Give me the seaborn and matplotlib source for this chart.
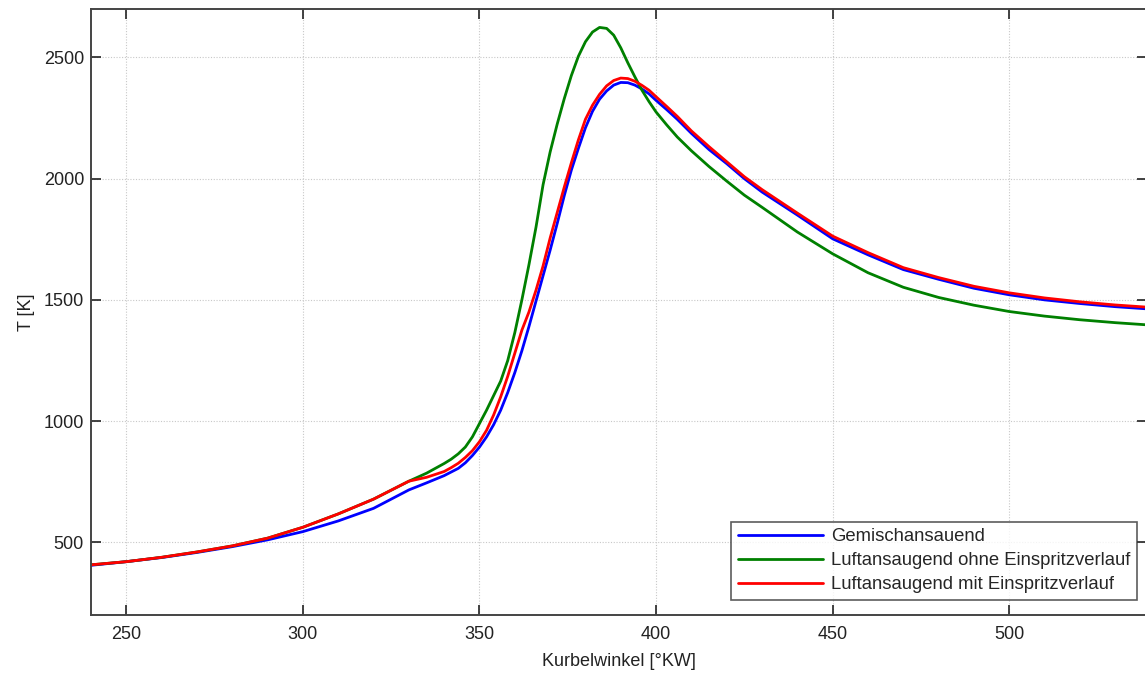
import matplotlib
matplotlib.use("Agg")
import matplotlib.pyplot as plt
import seaborn as sns
import pandas as pd

# Crank angle [°KW]
kurbelwinkel = [240, 250, 260, 270, 280, 290, 300, 310, 320, 330, 335,
                340, 342, 344, 346, 348, 350, 352, 354, 356, 358, 360,
                362, 364, 366, 368, 370, 372, 374, 376, 378, 380,
                382, 384, 386, 388, 390, 392, 394, 396, 398, 400,
                403, 406, 410, 415, 420, 425, 430, 440, 450,
                460, 470, 480, 490, 500, 510, 520, 530, 539]

t_gemisch = [405, 420, 437, 458, 482, 510, 544, 588, 640, 716, 745,
             775, 790, 805, 828, 858, 893, 935, 985, 1045, 1118, 1200,
             1290, 1390, 1495, 1600, 1705, 1815, 1930, 2035, 2125, 2210,
             2278, 2328, 2362, 2386, 2397, 2396, 2386, 2370, 2350, 2323,
             2285, 2245, 2187, 2120, 2062, 2000, 1945, 1850, 1752,
             1686, 1625, 1585, 1548, 1521, 1500, 1485, 1472, 1463]

t_luft_ohne = [407, 420, 438, 460, 485, 517, 562, 617, 678, 752, 785,
               825, 843, 865, 893, 935, 990, 1045, 1105, 1165, 1250, 1365,
               1500, 1645, 1800, 1975, 2110, 2225, 2330, 2425, 2505, 2565,
               2605, 2624, 2620, 2592, 2540, 2478, 2420, 2365, 2318, 2275,
               2222, 2172, 2115, 2050, 1990, 1932, 1882, 1780, 1690,
               1612, 1552, 1510, 1478, 1452, 1433, 1418, 1406, 1397]

t_luft_mit = [407, 420, 438, 460, 485, 517, 562, 617, 678, 752, 768,
              792, 808, 826, 850, 878, 915, 962, 1025, 1100, 1185, 1280,
              1375, 1450, 1540, 1640, 1755, 1860, 1965, 2065, 2160, 2245,
              2303, 2348, 2383, 2405, 2415, 2413, 2402, 2385, 2365, 2338,
              2298, 2257, 2197, 2132, 2070, 2008, 1955, 1858, 1763,
              1695, 1633, 1592, 1556, 1529, 1508, 1492, 1479, 1470]

labels = ["Gemischansauend", "Luftansaugend ohne Einspritzverlauf",
          "Luftansaugend mit Einspritzverlauf"]
colors = ["#0000ff", "#008000", "#ff0000"]

x_ticks = [250, 300, 350, 400, 450, 500]
y_ticks = [500, 1000, 1500, 2000, 2500]

frames = []
for lab, vals in zip(labels, [t_gemisch, t_luft_ohne, t_luft_mit]):
    frames.append(pd.DataFrame({"KW": kurbelwinkel, "T": vals, "Fall": lab}))
df = pd.concat(frames, ignore_index=True)

sns.set_theme(style="ticks")
plt.rcParams["font.family"] = ["Liberation Sans", "DejaVu Sans"]

fig = plt.figure(figsize=(11.45, 6.75), dpi=100)
ax = fig.add_axes([91 / 1145, 1 - 615 / 675, (1147 - 91) / 1145, 606 / 675])

sns.lineplot(data=df, x="KW", y="T", hue="Fall", palette=colors, hue_order=labels,
             linewidth=2.0, ax=ax, sort=False, estimator=None)

ax.set_xlim(240, 539)
ax.set_ylim(200, 2700)
ax.set_xticks(x_ticks)
ax.set_yticks(y_ticks)
ax.grid(True, linestyle=(0, (1, 1.5)), color="#c8c8c8", linewidth=0.8)
ax.tick_params(direction="in", length=7, width=1.2, top=True, right=True,
               labelsize=13, colors="#222222", labelcolor="#222222")
ax.tick_params(axis="x", pad=8)
ax.tick_params(axis="y", pad=5)
for s in ax.spines.values():
    s.set_color("#444444")
    s.set_linewidth(1.4)

ax.set_xlabel("Kurbelwinkel [°KW]", fontsize=13, color="#222222", labelpad=7)
ax.set_ylabel("T [K]", fontsize=13, color="#222222", labelpad=6)

leg = ax.legend(loc="lower right", bbox_to_anchor=(0.9905, 0.0248), borderaxespad=0,
                fontsize=13.3, frameon=True, fancybox=False, handlelength=4.6,
                labelspacing=0.38, borderpad=0.36, handletextpad=0.45)
leg.get_frame().set_edgecolor("#333333")
leg.get_frame().set_linewidth(1.2)
for line in leg.get_lines():
    line.set_linewidth(2.0)

fig.savefig("out.png", dpi=100)
